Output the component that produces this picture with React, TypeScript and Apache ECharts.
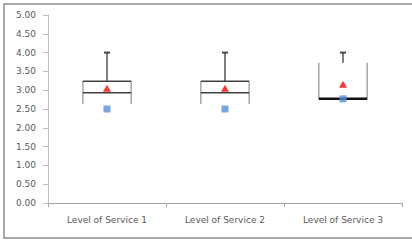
import React, { useEffect, useRef } from "react";
import * as echarts from "echarts";

const categories = ["Level of Service 1", "Level of Service 2", "Level of Service 3"];
const q1Vals = [2.63, 2.63, 2.77];
const medianVals = [2.93, 2.93, 2.77];
const q3Vals = [3.24, 3.24, 3.73];
const maxVals = [4.0, 4.0, 4.0];
const meanVals = [3.05, 3.05, 3.16];
const modeVals = [2.5, 2.5, 2.77];
const showTopLine = [1, 1, 0];
const yTicks = { min: 0, max: 5, interval: 0.5 };

export default function App() {
  const ref = useRef<HTMLDivElement>(null);
  useEffect(() => {
    if (!ref.current) return;
    const chart = echarts.init(ref.current, null, { renderer: "svg" });
    const boxData = categories.map((_, i) => [
      i,
      q1Vals[i],
      medianVals[i],
      q3Vals[i],
      maxVals[i],
      showTopLine[i],
    ]);
    const font = "DejaVu Sans";
    chart.setOption({
      animation: false,
      backgroundColor: "#ffffff",
      grid: { left: 48, right: 10, top: 15, bottom: 38 },
      graphic: [
        {
          type: "rect",
          shape: { x: 4, y: 4, width: 420, height: 234 },
          style: { fill: "none", stroke: "#8c8c8c", lineWidth: 1.5 },
          silent: true,
          z: -1,
        },
      ],
      xAxis: {
        type: "category",
        data: categories,
        boundaryGap: true,
        axisLine: { show: true, lineStyle: { color: "#a6a6a6", width: 1 } },
        axisTick: { show: true, length: 4, lineStyle: { color: "#a6a6a6" } },
        axisLabel: { margin: 12, fontSize: 9, color: "#595959", fontFamily: font },
        splitLine: { show: false },
      },
      yAxis: {
        type: "value",
        min: yTicks.min,
        max: yTicks.max,
        interval: yTicks.interval,
        axisLine: { show: true, lineStyle: { color: "#bfbfbf", width: 1 } },
        axisTick: { show: true, length: 5, lineStyle: { color: "#bfbfbf" } },
        axisLabel: {
          margin: 12,
          fontSize: 9,
          color: "#595959",
          fontFamily: font,
          formatter: (v: number) => v.toFixed(2),
        },
        splitLine: { show: false },
      },
      series: [
        {
          type: "custom",
          data: boxData,
          renderItem: (params: any, api: any) => {
            const i = api.value(0);
            const xC = api.coord([i, 0])[0];
            const band = api.size([1, 0])[0];
            const half = band * 0.205;
            const yQ1 = api.coord([i, api.value(1)])[1];
            const yMed = api.coord([i, api.value(2)])[1];
            const yQ3 = api.coord([i, api.value(3)])[1];
            const yMax = api.coord([i, api.value(4)])[1];
            const top = api.value(5);
            const coincide = Math.abs(yQ1 - yMed) < 0.5;
            const children: any[] = [
              {
                type: "line",
                shape: { x1: xC - half, y1: yQ1, x2: xC - half, y2: yQ3 },
                style: { stroke: "#a6a6a6", lineWidth: 1.5 },
              },
              {
                type: "line",
                shape: { x1: xC + half, y1: yQ1, x2: xC + half, y2: yQ3 },
                style: { stroke: "#a6a6a6", lineWidth: 1.5 },
              },
              {
                type: "line",
                shape: { x1: xC - half, y1: yMed, x2: xC + half, y2: yMed },
                style: { stroke: coincide ? "#111111" : "#404040", lineWidth: coincide ? 2.5 : 1.5 },
              },
              {
                type: "line",
                shape: { x1: xC, y1: yQ3, x2: xC, y2: yMax },
                style: { stroke: "#555555", lineWidth: 1.5 },
              },
              {
                type: "line",
                shape: { x1: xC - 3, y1: yMax, x2: xC + 3, y2: yMax },
                style: { stroke: "#444444", lineWidth: 2 },
              },
            ];
            if (top) {
              children.push({
                type: "line",
                shape: { x1: xC - half, y1: yQ3, x2: xC + half, y2: yQ3 },
                style: { stroke: "#404040", lineWidth: 1.5 },
              });
            }
            return { type: "group", children };
          },
          z: 2,
        },
        {
          type: "scatter",
          data: modeVals,
          symbol: "rect",
          symbolSize: 7,
          itemStyle: { color: "#558ed5" },
          z: 3,
        },
        {
          type: "scatter",
          data: meanVals,
          symbol: "triangle",
          symbolSize: [8, 7],
          itemStyle: { color: "#ff0000" },
          z: 4,
        },
      ],
    });
    return () => chart.dispose();
  }, []);
  return (
    <div
      ref={ref}
      style={{ position: "fixed", left: 0, top: 0, width: 412, height: 241 }}
    />
  );
}
